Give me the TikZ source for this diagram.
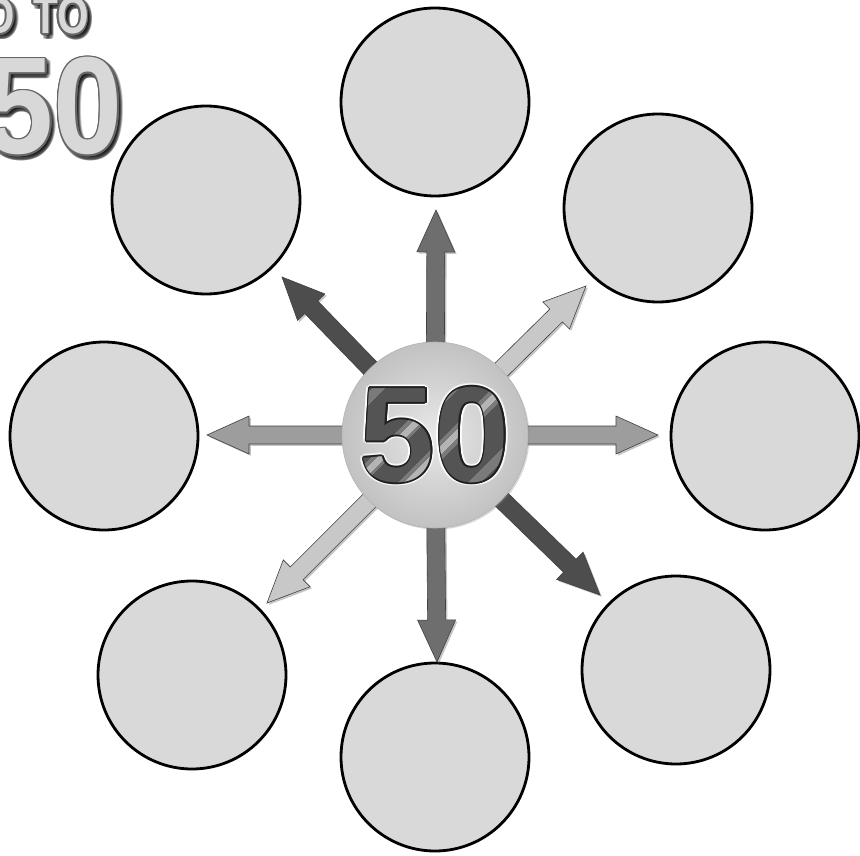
\documentclass[tikz,border=0pt]{standalone}
\usepackage{fontspec}
\setmainfont{Liberation Sans}
\newfontfamily\numfont{Liberation Sans}
\usetikzlibrary{calc,shadows}
\definecolor{circfill}{HTML}{D9D9D9}
\definecolor{adark}{HTML}{4D4D4D}
\definecolor{amid}{HTML}{6E6E6E}
\definecolor{agray}{HTML}{9D9D9D}
\definecolor{alight}{HTML}{C8C8C8}
\definecolor{titlefill}{HTML}{D8D8D8}
\definecolor{metalbase}{HTML}{545454}
\definecolor{metalmid}{HTML}{7A7A7A}
\definecolor{metallight}{HTML}{B4B4B4}
\newcommand\bignum{\numfont\fontsize{135}{135}\selectfont\bfseries}
\newcommand\titlebig{\numfont\fontsize{138}{138}\selectfont\bfseries}
\newcommand\titlesmall{\numfont\fontsize{52}{52}\selectfont\bfseries}
\newcommand\blockarrow[2]{%
  \coordinate (bb) at ($(C)!60pt!(#1)$);
  \coordinate (hh) at ($(#1)!42pt!(C)$);
  \path[arrowbody, fill=#2] ($(bb)!9pt!90:(#1)$) -- ($(hh)!9pt!-90:(C)$) -- ($(hh)!19pt!-90:(C)$) -- (#1) -- ($(hh)!19pt!90:(C)$) -- ($(hh)!9pt!90:(C)$) -- ($(bb)!9pt!-90:(#1)$) -- cycle;
}
\newcommand\outlinetext[4]{%
  \foreach \ang in {0,30,...,330}{\node[inner sep=0pt, anchor=#2, text=black, opacity=0.22] at ($(#1)+(3,3)+(\ang:2.5)$) {#3};}
  \foreach \ang in {0,30,...,330}{\node[inner sep=0pt, anchor=#2, text=black!60] at ($(#1)+(\ang:1.6)$) {#3};}
  \node[inner sep=0pt, anchor=#2, text=titlefill] (#4) at (#1) {#3};
}
% clip the central number to a diagonal band x+y in [#1,#2] and print it in colour #3
\newcommand\metalband[3]{%
  \begin{scope}
    \clip (#1-330,330) -- (#2-330,330) -- (#2-540,540) -- (#1-540,540) -- cycle;
    \node[inner sep=0pt, text=#3, font=\bignum] at (C) {50};
  \end{scope}
}
\begin{document}
\begin{tikzpicture}[x=1pt,y=-1pt,
  outer/.style={circle, draw=black, line width=2.8pt, fill=circfill, minimum size=188pt, inner sep=0pt},
  arrowbody/.style={draw=black!75, line width=0.6pt, drop shadow={shadow xshift=1.8pt, shadow yshift=-1.8pt, opacity=0.45}}]
\useasboundingbox (0,0) rectangle (860,856);
\fill[white] (0,0) rectangle (860,856);

% title in the corner
\outlinetext{15,34}{base east}{\titlesmall\scalebox{0.78}[1]{D}}{tD}
\outlinetext{33,34}{base west}{\titlesmall\scalebox{0.78}[1]{TO}}{tTO}
\outlinetext{123,154}{base east}{\titlebig\scalebox{0.9}[1]{50}}{t50}

% outer circles
\node[outer] (cT)  at (435,102) {};
\node[outer] (cUL) at (206,200) {};
\node[outer] (cUR) at (658,208) {};
\node[outer] (cL)  at (104,436) {};
\node[outer] (cR)  at (765,436) {};
\node[outer] (cLL) at (192,675) {};
\node[outer] (cLR) at (676,670) {};
\node[outer] (cB)  at (435,757) {};

% centre and arrow tips
\coordinate (C) at (435,435);
\coordinate (tU)  at (436,210);
\coordinate (tUL) at (282,277);
\coordinate (tUR) at (586,286);
\coordinate (tL)  at (207,435);
\coordinate (tR)  at (658,435);
\coordinate (tLL) at (267,603);
\coordinate (tD)  at (437,662);
\coordinate (tLR) at (600,595);

\blockarrow{tU}{amid}
\blockarrow{tUL}{adark}
\blockarrow{tUR}{alight}
\blockarrow{tL}{agray}
\blockarrow{tR}{agray}
\blockarrow{tLL}{alight}
\blockarrow{tD}{amid}
\blockarrow{tLR}{adark}

% central disc
\node[circle, minimum size=186pt, inner sep=0pt, draw=black!30, line width=0.6pt,
  inner color=black!9, outer color=black!24,
  drop shadow={shadow xshift=1.5pt, shadow yshift=-1.5pt, opacity=0.3}] (center) at (C) {};
\foreach \ang in {0,30,...,330}{\node[inner sep=0pt, text=white, opacity=0.6, font=\bignum] at ($(C)+(\ang:3.5)$) {50};}
\foreach \ang in {0,30,...,330}{\node[inner sep=0pt, text=black!88, font=\bignum] at ($(C)+(\ang:1.6)$) {50};}
\node[inner sep=0pt, text=metalbase, font=\bignum] (num) at (C) {50};
\metalband{828}{846}{metalmid}
\metalband{834}{842}{metallight}
\metalband{880}{900}{metalmid}
\metalband{886}{894}{metallight}
\metalband{760}{772}{metalmid}
\metalband{950}{962}{metalmid}
\end{tikzpicture}
\end{document}
